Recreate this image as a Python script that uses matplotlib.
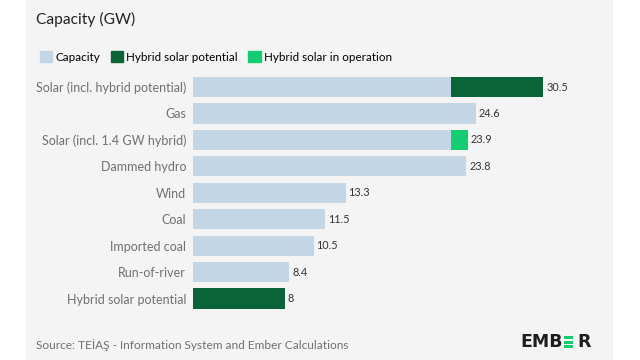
import matplotlib.pyplot as plt
from matplotlib.patches import Rectangle, Patch

# data
categories = ['Solar (incl. hybrid potential)', 'Gas', 'Solar (incl. 1.4 GW hybrid)',
              'Dammed hydro', 'Wind', 'Coal', 'Imported coal', 'Run-of-river',
              'Hybrid solar potential']
capacity = [22.5, 24.6, 22.5, 23.8, 13.3, 11.5, 10.5, 8.4, 0]
hybrid_potential = [8, 0, 0, 0, 0, 0, 0, 0, 8]
hybrid_operation = [0, 0, 1.4, 0, 0, 0, 0, 0, 0]
totals = [30.5, 24.6, 23.9, 23.8, 13.3, 11.5, 10.5, 8.4, 8]

c_cap = '#c3d6e6'
c_pot = '#0b6438'
c_op = '#14cd72'
bg = '#f4f4f4'

plt.rcParams['font.family'] = ['Lato', 'DejaVu Sans']

fig = plt.figure(figsize=(6.4, 3.6), dpi=100, facecolor='white')
fig.patches.append(Rectangle((26 / 640, 0), (613 - 26) / 640, 1, transform=fig.transFigure,
                             facecolor=bg, edgecolor='none', zorder=-10))

ax = fig.add_axes([193 / 640, 0.134, 402 / 640, 0.661])
ax.set_facecolor('none')
y = range(len(categories))
h = 0.76
ax.barh(y, capacity, height=h, color=c_cap, label='Capacity')
ax.barh(y, hybrid_potential, left=capacity, height=h, color=c_pot, label='Hybrid solar potential')
ax.barh(y, hybrid_operation, left=capacity, height=h, color=c_op, label='Hybrid solar in operation')

for i, v in enumerate(totals):
    ax.text(v + 0.25, i, f'{v:g}', va='center', ha='left', fontsize=7.8, color='#333333')

ax.set_xlim(0, 35)
ax.set_ylim(len(categories) - 0.5, -0.5)
ax.set_yticks(list(y))
ax.set_yticklabels(categories, fontsize=9, color='#707070')
ax.tick_params(axis='y', length=0, pad=5)
ax.set_xticks([])
for s in ax.spines.values():
    s.set_visible(False)

fig.text(36 / 640, 1 - 19 / 360, 'Capacity (GW)', fontsize=11.2, color='#222222', va='center')

handles = [Patch(color=c_cap), Patch(color=c_pot), Patch(color=c_op)]
labels = ['Capacity', 'Hybrid solar potential', 'Hybrid solar in operation']
fig.legend(handles, labels, loc='center left', bbox_to_anchor=(29 / 640, 1 - 57 / 360),
           ncol=3, frameon=False, fontsize=8.4, handlelength=1.05, handleheight=1.05,
           handletextpad=0.3, columnspacing=0.9)

fig.text(36 / 640, 1 - 345 / 360, 'Source: TEİAŞ - Information System and Ember Calculations',
         fontsize=8.6, color='#707070', va='center')

# logo
fig.text(520 / 640, 1 - 342 / 360, 'EMB', fontsize=12.5, fontweight='bold', color='#1e1e1e',
         va='center', ha='left', family='DejaVu Sans')
fig.text(577 / 640, 1 - 342 / 360, 'R', fontsize=12.5, fontweight='bold', color='#1e1e1e',
         va='center', ha='left', family='DejaVu Sans')
for yy in (336, 340.5, 345):
    fig.patches.append(Rectangle((564 / 640, 1 - (yy + 3) / 360), 9 / 640, 3 / 360,
                                 transform=fig.transFigure, facecolor=c_op, edgecolor='none'))

fig.savefig('out.png', dpi=100, facecolor='white')
